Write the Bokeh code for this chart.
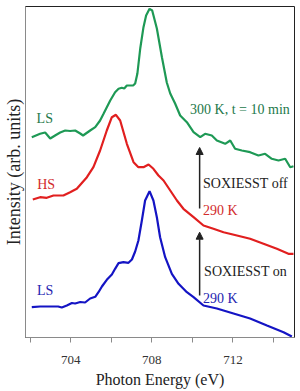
from bokeh.plotting import figure
from bokeh.models import Range1d, FixedTicker, Arrow, NormalHead, Label
from bokeh.embed import file_html
from bokeh.resources import INLINE

# Photon energy (eV) and intensity (arb. units) for the three spectra
ls_290_energy = [702.08, 702.49, 702.99, 703.38, 703.56, 703.81, 704.06, 704.22, 704.47, 704.71,
                 704.96, 705.21, 705.37, 705.54, 705.78, 706.03, 706.19, 706.36, 706.60, 706.85,
                 707.02, 707.18, 707.34, 707.51, 707.67, 707.89, 708.08, 708.25, 708.41, 708.66,
                 708.99, 709.32, 709.73, 710.06, 710.55, 711.21, 712.03, 712.85, 713.68, 714.50,
                 714.91]
ls_290_intensity = [0.303, 0.31, 0.31, 0.31, 0.30, 0.32, 0.345, 0.34, 0.355, 0.35,
                    0.39, 0.407, 0.453, 0.51, 0.577, 0.63, 0.687, 0.743, 0.753, 0.747,
                    0.78, 0.86, 0.97, 1.17, 1.37, 1.463, 1.37, 1.203, 1.003, 0.803,
                    0.637, 0.537, 0.453, 0.403, 0.32, 0.29, 0.24, 0.19, 0.12, 0.053,
                    0.01]

hs_290_energy = [702.13, 702.49, 702.82, 703.15, 703.64, 703.97, 704.30, 704.80, 705.12, 705.45,
                 705.78, 706.03, 706.23, 706.44, 706.77, 707.10, 707.34, 707.59, 707.84, 708.08,
                 708.33, 708.58, 708.91, 709.24, 709.56, 710.06, 710.55, 711.04, 711.54, 712.20,
                 712.85, 713.51, 714.17, 714.74, 714.99]
hs_290_intensity = [1.38, 1.403, 1.397, 1.42, 1.42, 1.453, 1.487, 1.603, 1.703, 1.87,
                    2.07, 2.203, 2.227, 2.17, 1.937, 1.753, 1.703, 1.703, 1.73, 1.687,
                    1.62, 1.57, 1.47, 1.37, 1.287, 1.203, 1.12, 1.087, 1.053, 1.02,
                    0.987, 0.937, 0.887, 0.837, 0.837]

ls_300_energy = [702.08, 702.49, 702.74, 702.99, 703.23, 703.48, 703.73, 703.97, 704.22, 704.47,
                 704.61, 704.96, 705.21, 705.45, 705.62, 705.95, 706.19, 706.36, 706.52, 706.64,
                 706.77, 707.08, 707.18, 707.29, 707.43, 707.59, 707.72, 707.89, 708.02, 708.25,
                 708.50, 708.74, 708.91, 709.15, 709.40, 709.73, 710.06, 710.39, 710.63, 710.96,
                 711.21, 711.62, 711.87, 712.11, 712.44, 712.85, 713.26, 713.59, 713.92, 714.25,
                 714.58, 714.83, 714.99]
ls_300_intensity = [2.003, 2.037, 2.05, 1.99, 2.02, 2.05, 2.07, 2.065, 2.07, 2.04,
                    2.02, 2.07, 2.103, 2.17, 2.237, 2.37, 2.453, 2.487, 2.497, 2.49,
                    2.52, 2.52, 2.54, 2.64, 2.89, 3.103, 3.22, 3.287, 3.27, 3.09,
                    2.803, 2.55, 2.44, 2.34, 2.22, 2.153, 2.053, 2.003, 2.037, 2.02,
                    1.97, 1.937, 1.97, 1.887, 1.87, 1.853, 1.82, 1.837, 1.787, 1.77,
                    1.787, 1.703, 1.713]

tick_values = [702, 704, 706, 708, 710, 712, 714]
labelled_ticks = [704, 708, 712]

GREEN = "#1e9955"
RED = "#e11f1f"
BLUE = "#1414c4"
FONT = "Liberation Serif"

p = figure(width=300, height=391, output_backend="svg", toolbar_location=None,
           x_range=Range1d(701.77, 715.04), y_range=Range1d(0, 3.31),
           min_border_left=25, min_border_right=6, min_border_top=6, min_border_bottom=54)

p.line(ls_290_energy, ls_290_intensity, line_color=BLUE, line_width=2.2)
p.line(hs_290_energy, hs_290_intensity, line_color=RED, line_width=2.2)
p.line(ls_300_energy, ls_300_intensity, line_color=GREEN, line_width=2.2)

# spectrum annotations
def note(x, y, text, color, align="left"):
    p.add_layout(Label(x=x, y=y, text=text, text_color=color, text_font=FONT,
                       text_font_size="14px", text_align=align, text_baseline="middle"))

note(702.72, 2.19, "LS", "#23784a", "center")
note(702.79, 1.535, "HS", "#d22b2b", "center")
note(702.74, 0.47, "LS", "#2424b0", "center")
note(709.89, 2.28, "300 K, t = 10 min", "#23784a")
note(710.53, 1.545, "SOXIESST off", "#222222")
note(710.53, 1.27, "290 K", "#d22b2b")
note(710.58, 0.66, "SOXIESST on", "#222222")
note(710.53, 0.395, "290 K", "#2424b0")

# transition arrows
for y0, y1 in [(1.29, 1.90), (0.42, 1.053)]:
    p.add_layout(Arrow(x_start=710.36, y_start=y0, x_end=710.36, y_end=y1,
                       line_color="#222222", line_width=1.5,
                       end=NormalHead(size=7, fill_color="#222222", line_color="#222222")))

p.grid.visible = False
p.outline_line_color = "#222222"
p.outline_line_width = 1

xa = p.xaxis[0]
xa.ticker = FixedTicker(ticks=tick_values)
xa.major_label_overrides = {t: ("" if t not in labelled_ticks else str(t)) for t in tick_values}
xa.major_tick_in = 0
xa.major_tick_out = 5
xa.minor_tick_line_color = None
xa.axis_line_color = "#8a8a8a"
xa.major_tick_line_color = "#8a8a8a"
xa.major_label_text_font = FONT
xa.major_label_text_font_size = "13px"
xa.major_label_text_color = "#333333"
xa.major_label_standoff = 13
xa.axis_label = "Photon Energy (eV)"
xa.axis_label_text_font = FONT
xa.axis_label_text_font_size = "16px"
xa.axis_label_text_font_style = "normal"
xa.axis_label_text_color = "#222222"
xa.axis_label_standoff = 4

ya = p.yaxis[0]
ya.ticker = FixedTicker(ticks=[])
ya.major_tick_in = 0
ya.major_tick_out = 0
ya.minor_tick_line_color = None
ya.major_label_standoff = 0
ya.axis_line_color = "#8a8a8a"
ya.axis_label = "Intensity (arb. units)"
ya.axis_label_text_font = FONT
ya.axis_label_text_font_size = "18px"
ya.axis_label_text_font_style = "normal"
ya.axis_label_text_color = "#222222"
ya.axis_label_standoff = 2

open("out.html", "w").write(file_html(p, INLINE))
